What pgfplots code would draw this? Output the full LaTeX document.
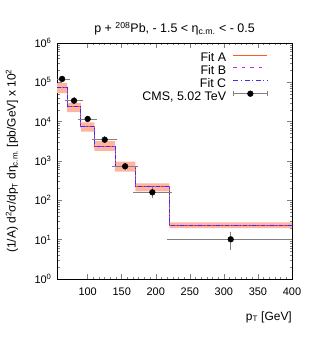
\documentclass[border=0pt]{standalone}
\usepackage{fontspec}
\setmainfont{Liberation Sans}
\usepackage{pgfplots}
\pgfplotsset{compat=1.18}
\usepgfplotslibrary{fillbetween}
\definecolor{colorange}{RGB}{255,90,30}
\definecolor{colpurple}{RGB}{180,50,210}
\definecolor{colblue}{RGB}{50,50,255}
\definecolor{colband}{RGB}{255,180,162}
\begin{document}
\begin{tikzpicture}
\begin{axis}[
  at={(0,0)}, anchor=south west,
  scale only axis, width=235bp, height=236bp,
  xmin=55, xmax=400, ymode=log, ymin=1, ymax=1e6,
  xtick={100,150,...,400}, minor x tick num=5,
  ytick={1,10,100,1000,10000,100000,1000000},
  yticklabels={10\textsuperscript{0},10\textsuperscript{1},10\textsuperscript{2},10\textsuperscript{3},10\textsuperscript{4},10\textsuperscript{5},10\textsuperscript{6}},
  /pgf/number format/assume math mode=true,
  tick align=inside, major tick length=5bp, minor tick length=2.5bp,
  axis line style={line width=0.6pt}, tick style={line width=0.5pt},
  tick label style={font=\fontsize{11}{13}\selectfont},
  xticklabel style={yshift=-5bp},
  yticklabel style={xshift=-2bp},
  xlabel={p\textsubscript{T} [GeV]},
  xlabel style={at={(axis description cs:1,0)}, anchor=base east, inner sep=0pt, yshift=-41bp,
    font=\fontsize{12}{14}\selectfont},
  ylabel={(1/A) d\textsuperscript{2}σ/dp\textsubscript{T} dη\textsubscript{c.m.} [pb/GeV] x 10\textsuperscript{2}},
  ylabel style={at={(axis description cs:-0.1915,0.5)}, anchor=center, inner sep=0pt,
    font=\fontsize{12}{14}\selectfont},
  legend plot pos=right, legend cell align=right,
  legend style={at={(axis description cs:1,1)}, anchor=north east, xshift=-24bp, yshift=-9bp,
    draw=none, fill=none, inner sep=0pt, row sep=0pt,
    font=\fontsize{12.5}{15}\selectfont,
    nodes={inner sep=0pt, text height=9.5bp, text depth=3.3bp},
    /tikz/every odd column/.append style={column sep=6.7bp}},
]
% uncertainty band
\addplot[name path=up, draw=none, const plot, forget plot] coordinates {
 (55,96000) (70,30000) (90,9600) (110,3200) (140,960) (170,271) (220,27.7) (400,27.7)};
\addplot[name path=lo, draw=none, const plot, forget plot] coordinates {
 (55,53000) (70,17500) (90,5600) (110,1800) (140,535) (170,170) (220,19.6) (400,19.6)};
\addplot[fill=colband, draw=none, forget plot] fill between[of=up and lo];
% fits
\addplot[const plot, colorange, line width=0.8pt,
  legend image code/.code={\draw[colorange, line width=0.9pt] (0bp,3.5bp) -- (34bp,3.5bp);}] coordinates {
 (55,75000) (70,24000) (90,7450) (110,2400) (140,717) (170,222) (220,23.6) (400,23.6)};
\addlegendentry{Fit A}
\addplot[const plot, colpurple, line width=0.8pt, dash pattern=on 3bp off 3bp,
  legend image code/.code={\draw[colpurple, line width=0.9pt, dash pattern=on 3.5bp off 5bp] (0bp,3.5bp) -- (34bp,3.5bp);}] coordinates {
 (55,75500) (70,24200) (90,7500) (110,2420) (140,720) (170,223) (220,23.6) (400,23.6)};
\addlegendentry{Fit B}
\addplot[const plot, colblue, line width=0.8pt, dash pattern=on 4bp off 2bp on 1bp off 2bp,
  legend image code/.code={\draw[colblue, line width=0.9pt, dash pattern=on 5bp off 2.5bp on 1.2bp off 2.5bp] (0bp,3.5bp) -- (34bp,3.5bp);}] coordinates {
 (55,74500) (70,23800) (90,7400) (110,2390) (140,715) (170,221) (220,23.4) (400,23.4)};
\addlegendentry{Fit C}
% data
\addplot[only marks, mark=*, mark size=2.9bp, black,
  legend image code/.code={
    \draw[gray, line width=0.5pt] (0bp,3.5bp) -- (34bp,3.5bp);
    \draw[gray, line width=0.5pt] (0bp,1bp) -- (0bp,6bp);
    \draw[gray, line width=0.5pt] (34bp,1bp) -- (34bp,6bp);
    \fill[black] (17bp,3.5bp) circle (2.9bp);},
  error bars/.cd, x dir=both, x explicit, y dir=both, y explicit,
  error bar style={gray, line width=0.5pt},
  error mark options={gray, mark size=2.5bp, line width=0.5pt}]
 table[x=x, y=y, x error minus=xm, x error plus=xp, y error minus=ym, y error plus=yp] {
 x     y       xm   xp   ym    yp
 62.5  122000  7.5  7.5  6000  6000
 80    34200   10   10   1700  1700
 100   11700   10   10   600   600
 125   3480    15   15   200   200
 155   733     15   15   50    50
 195   160     25   25   25    25
 310   10.2    90   90   3.8   3.7
};
\addlegendentry{CMS, 5.02 TeV}
\end{axis}
\node[anchor=base, inner sep=0pt, font=\fontsize{12.5}{15}\selectfont] at (117.5bp,246bp)
  {p + \textsuperscript{208}Pb, - 1.5 < η\textsubscript{c.m.} < - 0.5};
\pgfresetboundingbox
\path (-57bp,-60bp) rectangle (254bp,279bp);
\end{tikzpicture}
\end{document}
